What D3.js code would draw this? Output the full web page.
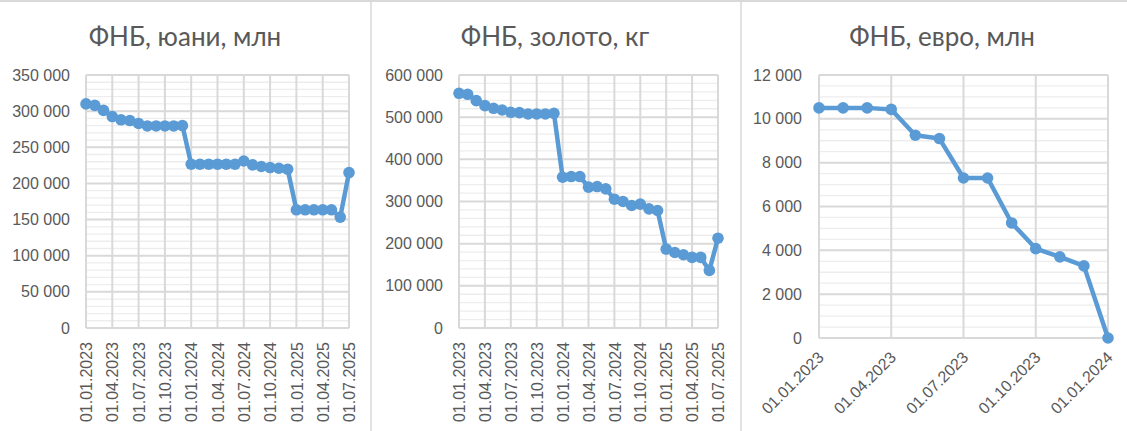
<!DOCTYPE html>
<html>
<head>
<meta charset="utf-8">
<script src="https://cdn.jsdelivr.net/npm/d3@7"></script>
<style>
  body { margin: 0; background: #fff; }
  svg { display: block; font-family: Lato, "Open Sans", sans-serif; }
</style>
</head>
<body>
<div id="chart"></div>
<script>
// ФНБ: monthly balances
const yuanValues = [310000, 308000, 301000, 292500, 288000, 287000, 283000, 279500, 279500, 279500, 279500, 280000,
	226600, 226600, 226600, 226600, 226600, 226600, 231000, 225700, 223400, 222000, 221000, 219700,
	163500, 163500, 163500, 163500, 163500, 153400, 215000]
const goldValues = [556600, 554200, 539200, 527400, 521000, 517000, 511600, 510800, 507600, 507600, 507600, 509000,
	357600, 359200, 359200, 334000, 335500, 330000, 305500, 300000, 290500, 293700, 282600, 278700,
	187000, 179000, 173700, 167400, 167400, 136600, 213000]
const euroValues = [10500, 10500, 10500, 10430, 9250, 9100, 7300, 7300, 5250, 4080, 3700, 3290, 0]

const longTickLabels = ["01.01.2023", "01.04.2023", "01.07.2023", "01.10.2023", "01.01.2024", "01.04.2024",
	"01.07.2024", "01.10.2024", "01.01.2025", "01.04.2025", "01.07.2025"]
const euroTickLabels = ["01.01.2023", "01.04.2023", "01.07.2023", "01.10.2023", "01.01.2024"]

const titles = ["ФНБ, юани, млн", "ФНБ, золото, кг", "ФНБ, евро, млн"]

const W = 1127, H = 431
const textColor = "#595959"
const lineColor = "#5b9bd5"

const svg = d3.select("#chart").append("svg")
	.attr("width", W)
	.attr("height", H)

const locale = d3.formatLocale({ decimal: ",", thousands: " ", grouping: [3], currency: ["", ""] })
const fmt = locale.format(",d")

// panel frame lines
svg.append("line").attr("x1", 0).attr("x2", W).attr("y1", 1).attr("y2", 1)
	.attr("stroke", "#d9d9d9").attr("stroke-width", 2)
;[371, 741].forEach(x => {
	svg.append("line").attr("x1", x).attr("x2", x).attr("y1", 0).attr("y2", H)
		.attr("stroke", "#d9d9d9").attr("stroke-width", 1.5)
})

function drawPanel(opts) {
	const g = svg.append("g")

	const x = d3.scaleLinear()
		.domain([0, opts.values.length - 1])
		.range([opts.left, opts.right])
	const y = d3.scaleLinear()
		.domain([0, opts.max])
		.range([opts.bottom, opts.top])

	// minor grid
	const minorTicks = d3.range(0, opts.max + 1, opts.minor).filter(v => v % opts.major !== 0)
	g.append("g").selectAll("line").data(minorTicks).join("line")
		.attr("x1", opts.left).attr("x2", opts.right)
		.attr("y1", d => y(d)).attr("y2", d => y(d))
		.attr("stroke", "#ededed").attr("stroke-width", 1.3)

	// major grid
	const majorTicks = d3.range(0, opts.max + 1, opts.major)
	g.append("g").selectAll("line").data(majorTicks).join("line")
		.attr("x1", opts.left).attr("x2", opts.right)
		.attr("y1", d => y(d)).attr("y2", d => y(d))
		.attr("stroke", "#d9d9d9").attr("stroke-width", 2)

	// vertical grid at labelled ticks
	const tickIdx = opts.tickLabels.map((_, i) => i * opts.tickStep)
	g.append("g").selectAll("line").data(tickIdx).join("line")
		.attr("x1", d => x(d)).attr("x2", d => x(d))
		.attr("y1", opts.top).attr("y2", opts.bottom)
		.attr("stroke", "#d9d9d9").attr("stroke-width", 2)

	// y axis labels
	const yAxis = d3.axisLeft(y).tickValues(majorTicks).tickFormat(fmt).tickSize(0).tickPadding(opts.yPad)
	g.append("g")
		.attr("transform", `translate(${opts.left},0)`)
		.call(yAxis)
		.call(s => s.select(".domain").remove())
		.selectAll("text")
		.attr("fill", textColor)
		.style("font-size", "16px")

	// x axis labels
	const xAxis = d3.axisBottom(x).tickValues(tickIdx)
		.tickFormat((d, i) => opts.tickLabels[i]).tickSize(0)
	const xg = g.append("g")
		.attr("transform", `translate(0,${opts.bottom})`)
		.call(xAxis)
		.call(s => s.select(".domain").remove())
	xg.selectAll("text")
		.attr("fill", textColor)
		.style("font-size", "16px")
		.attr("text-anchor", "end")
		.attr("dy", opts.rotate === -90 ? "0.35em" : "0.3em")
		.attr("y", 0)
		.attr("transform", opts.rotate === -90
			? "translate(0,14) rotate(-90)"
			: "translate(2,17) rotate(-45)")

	// series line
	const line = d3.line()
		.x((d, i) => x(i))
		.y(d => y(d))
	g.append("path")
		.datum(opts.values)
		.attr("fill", "none")
		.attr("stroke", lineColor)
		.attr("stroke-width", 4.5)
		.attr("stroke-linejoin", "round")
		.attr("d", line)

	g.append("g").selectAll("circle").data(opts.values).join("circle")
		.attr("cx", (d, i) => x(i))
		.attr("cy", d => y(d))
		.attr("r", 5.8)
		.attr("fill", lineColor)

	// title
	g.append("text")
		.attr("x", opts.titleX)
		.attr("y", 46)
		.attr("text-anchor", "middle")
		.attr("fill", textColor)
		.style("font-size", "26px")
		.text(opts.title)
}

drawPanel({
	values: yuanValues, max: 350000, major: 50000, minor: 10000,
	left: 86, right: 349, top: 75, bottom: 328, yPad: 16,
	tickLabels: longTickLabels, tickStep: 3, rotate: -90,
	title: titles[0], titleX: 185
})

drawPanel({
	values: goldValues, max: 600000, major: 100000, minor: 20000,
	left: 459, right: 718, top: 75, bottom: 328, yPad: 16,
	tickLabels: longTickLabels, tickStep: 3, rotate: -90,
	title: titles[1], titleX: 555
})

drawPanel({
	values: euroValues, max: 12000, major: 2000, minor: 500,
	left: 819, right: 1108, top: 75, bottom: 338, yPad: 17,
	tickLabels: euroTickLabels, tickStep: 3, rotate: -45,
	title: titles[2], titleX: 942
})
</script>
</body>
</html>
